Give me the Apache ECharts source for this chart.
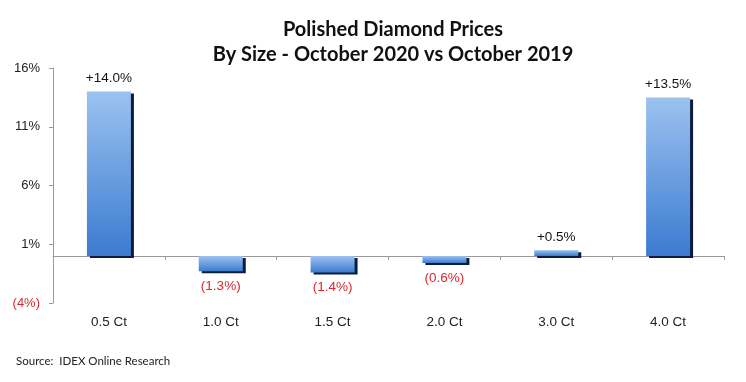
<!DOCTYPE html>
<html><head><meta charset="utf-8">
<script src="https://cdn.jsdelivr.net/npm/echarts@6/dist/echarts.min.js"></script>
<style>html,body{margin:0;padding:0;background:#fff}#c{width:746px;height:382px}</style>
</head><body><div id="c"></div>
<script>
var categories = ['0.5 Ct', '1.0 Ct', '1.5 Ct', '2.0 Ct', '3.0 Ct', '4.0 Ct'];
var changes = [14.0, -1.3, -1.4, -0.6, 0.5, 13.5];
var yTicks = [-4, 1, 6, 11, 16];
var titleLines = ['Polished Diamond Prices', 'By Size - October 2020 vs October 2019'];
var sourceText = 'Source:  IDEX Online Research';

function fmt(v) {
  return v >= 0 ? '+' + v.toFixed(1) + '%' : '(' + Math.abs(v).toFixed(1) + '%)';
}
var barData = changes.map(function (v) {
  return {
    value: v,
    label: {
      show: true,
      position: v >= 0 ? 'top' : 'bottom',
      distance: v >= 0 ? 6 : 8,
      color: v >= 0 ? '#111' : '#d9282f',
      formatter: function () { return fmt(v); }
    }
  };
});

var chart = echarts.init(document.getElementById('c'), null, {renderer: 'canvas'});
chart.setOption({
  animation: false,
  backgroundColor: '#fff',
  title: {
    text: titleLines.join('\n'),
    left: 388, top: 12, textAlign: 'center',
    textStyle: {fontFamily: 'Lato', fontWeight: 'bold', fontSize: 20, color: '#111', lineHeight: 25}
  },
  graphic: [{
    type: 'text', left: 16, top: 355,
    style: {text: sourceText, fontFamily: 'Lato', fontSize: 11.5, fill: '#222'}
  }],
  grid: {left: 53, right: 22, top: 68, bottom: 79, containLabel: false},
  xAxis: [{
    type: 'category', data: categories, position: 'bottom',
    axisLine: {show: false, onZero: false}, axisTick: {show: false},
    axisLabel: {margin: 12, fontFamily: 'Liberation Sans', fontSize: 13.5, color: '#222'}
  }, {
    type: 'category', data: categories, position: 'bottom',
    axisLine: {show: true, onZero: true, lineStyle: {color: '#9a9a9a', width: 1}},
    axisTick: {show: true, length: 4, lineStyle: {color: '#9a9a9a'}},
    axisLabel: {show: false}
  }],
  yAxis: {
    type: 'value', min: -4, max: 16,
    axisLine: {show: true, lineStyle: {color: '#9a9a9a'}},
    axisTick: {show: true, length: 4, customValues: yTicks, lineStyle: {color: '#9a9a9a'}},
    splitLine: {show: false},
    axisLabel: {
      customValues: yTicks, margin: 13,
      fontFamily: 'Liberation Sans', fontSize: 13,
      formatter: function (v) { return v < 0 ? '(' + Math.abs(v) + '%)' : v + '%'; },
      color: function (v) { return v < 0 ? '#d9282f' : '#222'; }
    }
  },
  series: [{
    type: 'bar', xAxisIndex: 0, data: barData, barWidth: 44,
    label: {fontFamily: 'Liberation Sans', fontSize: 13.5},
    itemStyle: {
      color: new echarts.graphic.LinearGradient(0, 0, 0, 1, [
        {offset: 0, color: '#9cc2f0'}, {offset: 1, color: '#3b7bd0'}
      ]),
      shadowColor: '#0d1b3d', shadowOffsetX: 3, shadowOffsetY: 2, shadowBlur: 0
    }
  }]
});
</script></body></html>
